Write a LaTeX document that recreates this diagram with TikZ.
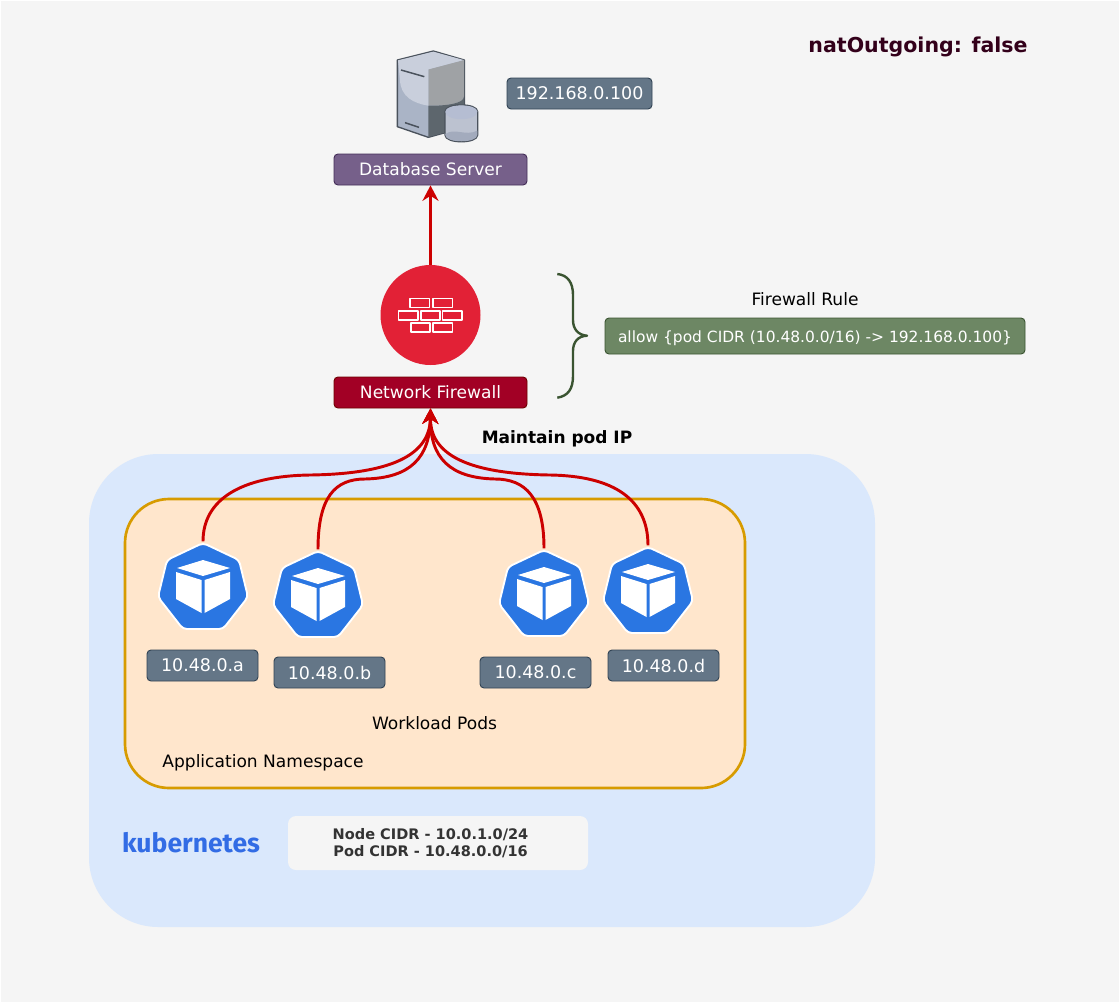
\documentclass[tikz,border=0pt]{standalone}
\usepackage{fontspec}
\setmainfont{DejaVu Sans}
\newfontfamily\kubefont{Fira Sans}
\usetikzlibrary{arrows.meta}
\definecolor{pagebg}{HTML}{F5F5F5}
\definecolor{slatefill}{HTML}{647687}
\definecolor{slateline}{HTML}{314354}
\definecolor{purplefill}{HTML}{76608A}
\definecolor{purpleline}{HTML}{432D57}
\definecolor{redfill}{HTML}{A20025}
\definecolor{redline}{HTML}{6F0000}
\definecolor{greenfill}{HTML}{6D8764}
\definecolor{greenline}{HTML}{3A5431}
\definecolor{kubeblue}{HTML}{2A76E2}
\definecolor{kubetext}{HTML}{326CE5}
\definecolor{arrowred}{HTML}{CC0000}
\definecolor{clusterfill}{HTML}{DAE8FC}
\definecolor{nsfill}{HTML}{FFE6CC}
\definecolor{nsline}{HTML}{D79B00}
\definecolor{fwfill}{HTML}{E22136}
\definecolor{natcolor}{HTML}{33001A}
\definecolor{cidrtext}{HTML}{333333}
\definecolor{srvline}{HTML}{4A525C}
\definecolor{srvleft}{HTML}{AAB4C6}
\definecolor{srvlight}{HTML}{C9CFDC}
\definecolor{srvgray}{HTML}{9FA2A5}
\definecolor{srvdark}{HTML}{5D666D}
\definecolor{cylbody}{HTML}{BCC2D0}
\definecolor{cyltop}{HTML}{B5BDD2}
\definecolor{cylwave}{HTML}{A3ABBD}
\begin{document}
\begin{tikzpicture}[x=0.75pt,y=-0.75pt,line join=round,>={Stealth[length=11.5pt,width=12pt]}]
	\tikzset{labelbox/.style={rectangle,draw,rounded corners=3pt,line width=0.7pt,text=white,inner sep=0pt,align=center,font=\fontsize{12.8}{15}\selectfont},
		ipbox/.style={labelbox,fill=slatefill,draw=slateline,minimum width=83.25pt,minimum height=23.25pt,font=\fontsize{13.1}{15}\selectfont},
		titlebox/.style={labelbox,minimum width=144.75pt,minimum height=23.25pt},
		plaintext/.style={inner sep=0pt,align=center,font=\fontsize{12.8}{15}\selectfont},
		route/.style={draw=arrowred,line width=2.2pt,->},
		podnode/.style={circle,minimum size=68pt,inner sep=0pt},
		podicon/.pic={
			\draw[fill=kubeblue,draw=white,line width=1.4pt,rounded corners=3pt] (0,-44)--(36,-27)--(45,10)--(20,42)--(-20,42)--(-45,10)--(-36,-27)--cycle;
			\fill[white] (0,-27)--(27,-19)--(0,-11)--(-26,-19)--cycle;
			\fill[white] (-27,-15)--(-1.5,-7)--(-1.5,26)--(-27,12)--cycle;
			\fill[white] (1.5,-7)--(27,-15)--(27,12)--(1.5,26)--cycle;
		}}
	\fill[white] (0,0) rectangle (1120,1004);
	\fill[pagebg] (1,1) rectangle (1119,1002);
	\fill[clusterfill,rounded corners=52pt] (89,454) rectangle (875,927);
	\draw[fill=nsfill,draw=nsline,line width=2pt,rounded corners=33pt] (125,499) rectangle (745,788);

	\begin{scope}[shift={(370,40)},x=0.25pt,y=-0.25pt]
		\draw[fill=srvleft,draw=srvline,line width=1pt] (82,60)--(190,33)--(283,60)--(283,262)--(175,292)--(82,260)--cycle;
		\fill[srvgray] (175,88)--(282,60)--(282,170) .. controls (282,190) and (230,198) .. (175,197)--cycle;
		\fill[srvdark] (175,197) .. controls (230,198) and (282,190) .. (282,170)--(282,261)--(175,291)--cycle;
		\fill[srvlight] (84,61)--(190,35)--(281,60)--(175,88)--(175,197) .. controls (130,190) and (92,170) .. (90,120)--cycle;
		\draw[draw=srvline,line width=1.1pt] (93,90)--(163,110) (105,248)--(147,262);
		\draw[fill=cylbody,draw=srvline,line width=1pt] (225,215)--(225,285) .. controls (225,312) and (323,312) .. (323,285)--(323,215) .. controls (323,188) and (225,188) .. (225,215)--cycle;
		\fill[cyltop] (226,215) .. controls (226,190) and (322,190) .. (322,215) .. controls (322,245) and (226,245) .. (226,215)--cycle;
		\fill[cylwave] (226,282) .. controls (255,262) and (285,290) .. (322,272)--(322,285) .. controls (322,310) and (226,310) .. (226,285)--cycle;
	\end{scope}

	\node[ipbox,minimum width=108.75pt] (dbip) at (579.5,93.5) {192.168.0.100};
	\node[titlebox,fill=purplefill,draw=purpleline] (dbserver) at (430.5,169.5) {Database Server};
	\node[circle,fill=fwfill,minimum size=75pt,inner sep=0pt] (fwcircle) at (430.5,315) {};
	\begin{scope}[shift={(320,250)},x=0.25pt,y=-0.25pt]
		\draw[white,line width=1.25pt] (270,145) rectangle (328,172) (338,145) rectangle (397,172);
		\draw[white,line width=1.25pt] (235,182) rectangle (293,210) (302,182) rectangle (360,210) (367,182) rectangle (425,210);
		\draw[white,line width=1.25pt] (272,218) rectangle (330,246) (338,218) rectangle (397,246);
	\end{scope}
	\node[titlebox,fill=redfill,draw=redline] (firewall) at (430.5,392.5) {Network Firewall};
	\draw[draw=greenline,line width=1.8pt] (557.3,274) .. controls (568,275) and (573,283) .. (573,295)--(573,320) .. controls (573,329) and (578,335) .. (587,335.7) .. controls (578,336) and (573,342) .. (573,351)--(573,376) .. controls (573,389) and (568,396) .. (557.3,397.7);
	\node[plaintext] (rulelabel) at (805,299) {Firewall Rule};
	\node[labelbox,fill=greenfill,draw=greenline,minimum width=315pt,minimum height=27pt,font=\fontsize{11.6}{14}\selectfont] (rulebox) at (815,336) {\raisebox{-4.5pt}[0pt][0pt]{allow \{pod CIDR (10.48.0.0/16) -> 192.168.0.100\}}};
	\node[plaintext,font=\fontsize{12.75}{15}\bfseries\selectfont] (podip) at (557,439) {Maintain pod IP};
	\node[plaintext,font=\fontsize{15.4}{18}\bfseries\selectfont,text=natcolor] (natlabel) at (918,47) {natOutgoing: false};

	\pic at (203,587) {podicon};
	\pic at (318,595) {podicon};
	\pic at (544,594) {podicon};
	\pic at (648,591) {podicon};
	\node[podnode] (poda) at (203,587) {};
	\node[podnode] (podb) at (318,595) {};
	\node[podnode] (podc) at (544,594) {};
	\node[podnode] (podd) at (648,591) {};
	\node[ipbox] (ipa) at (202.5,665.5) {10.48.0.a};
	\node[ipbox] (ipb) at (329.5,672.5) {10.48.0.b};
	\node[ipbox] (ipc) at (535.5,672.5) {10.48.0.c};
	\node[ipbox] (ipd) at (663.5,665.5) {10.48.0.d};
	\node[plaintext] (workload) at (434.5,723) {Workload Pods};
	\node[plaintext] (appns) at (263,763) {Application Namespace};
	\node[plaintext,font=\fontsize{19.9}{23}\kubefont\bfseries\selectfont,text=kubetext] (kubelabel) at (191,843) {kubernetes};
	\node[rectangle,fill=pagebg,rounded corners=6pt,minimum width=225pt,minimum height=40.5pt,inner sep=0pt,align=center,text=cidrtext,font=\fontsize{10.9}{13.2}\bfseries\selectfont] (cidrbox) at (438,843) {\hspace*{-11.2pt}Node CIDR - 10.0.1.0/24\\\hspace*{-11.2pt}Pod CIDR - 10.48.0.0/16};

	\draw[route] (fwcircle.north)--(dbserver.south);
	\draw[route] (poda.north) .. controls (203,500) and (240,476) .. (310,475) .. controls (380,474) and (430,460) .. (firewall.south);
	\draw[route] (podb.north) .. controls (318,497) and (335,479) .. (365,479) .. controls (410,478) and (430,458) .. (firewall.south);
	\draw[route] (podc.north) .. controls (544,497) and (525,479) .. (495,479) .. controls (450,478) and (430,458) .. (firewall.south);
	\draw[route] (podd.north) .. controls (648,500) and (615,476) .. (550,475) .. controls (480,474) and (430,460) .. (firewall.south);
\end{tikzpicture}
\end{document}
